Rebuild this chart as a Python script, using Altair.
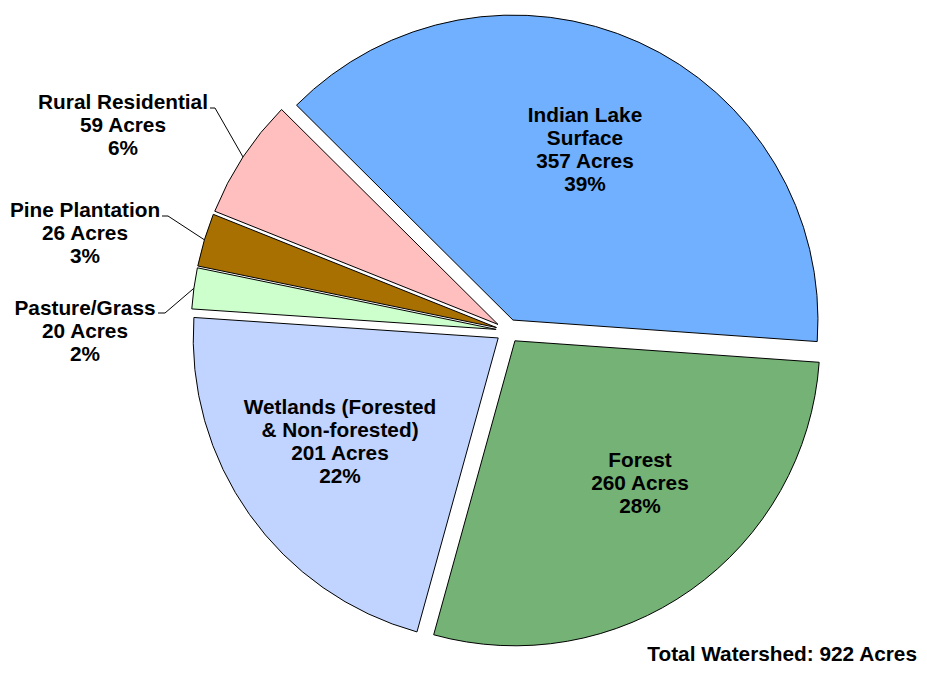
import math
import altair as alt
import pandas as pd

# ---- data ----
categories = ["Indian Lake Surface", "Forest", "Wetlands (Forested & Non-forested)",
              "Pasture/Grass", "Pine Plantation", "Rural Residential"]
acres = [357, 260, 201, 20, 26, 59]
percents = ["39%", "28%", "22%", "2%", "3%", "6%"]
label_names = ["Indian Lake\nSurface", "Forest", "Wetlands (Forested\n& Non-forested)",
               "Pasture/Grass", "Pine Plantation", "Rural Residential"]
colors = ["#70B0FF", "#74B275", "#C0D4FF", "#CCFFCC", "#A87000", "#FFBFBF"]
total_text = "Total Watershed: 922 Acres"

# ---- layout ----
W, H = 911, 659
CX, CY = 500, 323          # pie centre (view px)
R = 305                    # radius
EXPLODE = 12               # explode distance
START_DEG = -45.2          # angle of first slice start (clockwise from 12 o'clock)
FONT = "Liberation Sans"
FS = 20.8
LH = 23

total = sum(acres)
a0 = math.radians(START_DEG)

df = pd.DataFrame({
    "order": list(range(len(categories))),
    "category": categories,
    "acres": acres,
    "color": colors,
})

arcs = alt.Chart(df).transform_window(
    cum="sum(acres)", sort=[alt.SortField("order")], frame=[None, 0]
).transform_calculate(
    t0="datum.cum - datum.acres",
    t1="datum.cum",
    mid=f"{a0} + 2*PI*(datum.cum - datum.acres/2)/{total}",
).transform_calculate(
    cx=f"{CX} + {EXPLODE}*sin(datum.mid)",
    cy=f"{CY} - {EXPLODE}*cos(datum.mid)",
).mark_arc(radius=R, stroke="black", strokeWidth=1).encode(
    theta=alt.Theta("t0:Q", stack=None,
                    scale=alt.Scale(domain=[0, total], range=[a0, a0 + 2 * math.pi])),
    theta2="t1:Q",
    x=alt.X("cx:Q", scale=None),
    y=alt.Y("cy:Q", scale=None),
    color=alt.Color("color:N", scale=None),
)

# label texts
texts = [f"{n}\n{a} Acres\n{p}" for n, a, p in zip(label_names, acres, percents)]
# label anchors (page px of first baseline, centred) -> view px
label_pos = [(585, 122), (640, 467), (340, 414), (85, 315), (85, 217), (123, 109)]
lab = pd.DataFrame({
    "text": texts,
    "x": [p[0] - 8 for p in label_pos],
    "y": [p[1] - 8 for p in label_pos],
})
labels = alt.Chart(lab).mark_text(
    font=FONT, fontSize=FS, fontWeight="bold", lineBreak="\n", lineHeight=LH,
    align="center", baseline="alphabetic", color="black",
).encode(
    x=alt.X("x:Q", scale=None), y=alt.Y("y:Q", scale=None), text="text:N"
)

# leader lines for the small slices: label end -> elbow -> slice mid point
leader_layout = {  # index: (label end x, elbow x, y) in page px
    5: (210, 215, 108),
    4: (162, 168, 216),
    3: (158, 165, 313),
}
cum = 0
mids = []
for v in acres:
    mids.append(a0 + 2 * math.pi * (cum + v / 2) / total)
    cum += v
rows = []
for i, (xe, xb, yb) in leader_layout.items():
    px = CX + (EXPLODE + R) * math.sin(mids[i])
    py = CY - (EXPLODE + R) * math.cos(mids[i])
    rows.append({"x": xe - 8, "y": yb - 8, "x2": xb - 8, "y2": yb - 8})
    rows.append({"x": xb - 8, "y": yb - 8, "x2": px, "y2": py})
leaders = alt.Chart(pd.DataFrame(rows)).mark_rule(color="black", strokeWidth=1).encode(
    x=alt.X("x:Q", scale=None), y=alt.Y("y:Q", scale=None),
    x2="x2:Q", y2="y2:Q",
)

tot = alt.Chart(pd.DataFrame({"t": [total_text]})).mark_text(
    font=FONT, fontSize=FS, fontWeight="bold", align="right", baseline="alphabetic",
    color="black",
).encode(x=alt.value(W - 2), y=alt.value(H - 6), text="t:N")

chart = alt.layer(arcs, leaders, labels, tot).properties(
    width=W, height=H, autosize="none", padding=0
).configure_view(stroke=None)

chart.save("out.html", embed_options={"renderer": "svg", "actions": False})
